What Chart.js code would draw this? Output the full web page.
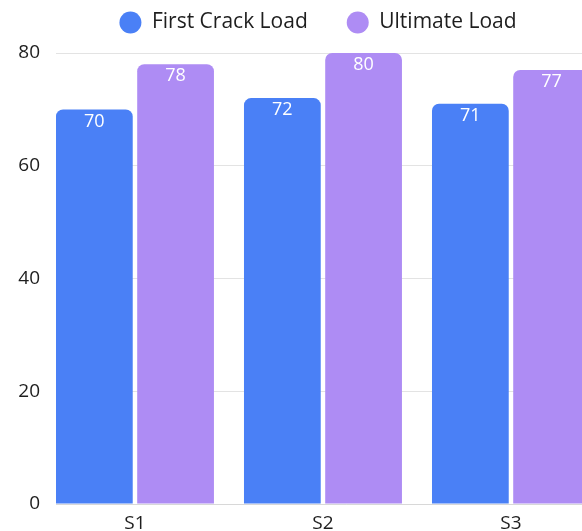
<!DOCTYPE html>
<html>
<head>
<meta charset="utf-8">
<script src="https://cdn.jsdelivr.net/npm/chart.js@4.4.1/dist/chart.umd.min.js"></script>
<style>
  html, body { margin: 0; padding: 0; background: #ffffff; overflow: hidden; }
  #c { display: block; }
</style>
</head>
<body>
<canvas id="c" width="636" height="544"></canvas>
<script>
// Specimen load test results
const categories = ['S1', 'S2', 'S3'];
const firstCrackLoad = [70, 72, 71];
const ultimateLoad = [78, 80, 77];
const yTicks = [0, 20, 40, 60, 80];
const seriesNames = ['First Crack Load', 'Ultimate Load'];
const seriesColors = ['#4a80f6', '#ae8cf4'];

const FONT = "'Open Sans', sans-serif";
const TEXT = '#1e1e1e';

// Each specimen sits at an integer position on the x axis
const toPoints = (vals) => vals.map((v, i) => ({ x: i, y: v }));

// White value printed just inside the top of every bar
const valueLabels = {
  id: 'valueLabels',
  afterDatasetsDraw(chart) {
    const ctx = chart.ctx;
    ctx.save();
    ctx.fillStyle = '#ffffff';
    ctx.font = '18px ' + FONT;
    ctx.textAlign = 'center';
    ctx.textBaseline = 'middle';
    chart.data.datasets.forEach((ds, di) => {
      chart.getDatasetMeta(di).data.forEach((bar, i) => {
        ctx.fillText(String(ds.data[i].y), bar.x, bar.y + 12);
      });
    });
    ctx.restore();
  }
};

// Extra room between the legend and the plot
const legendGap = {
  id: 'legendGap',
  beforeInit(chart) {
    const fit = chart.legend.fit;
    chart.legend.fit = function () {
      fit.call(this);
      this.height += 10;
    };
  }
};

new Chart(document.getElementById('c'), {
  type: 'bar',
  data: {
    datasets: [
      { label: seriesNames[0], data: toPoints(firstCrackLoad), backgroundColor: seriesColors[0] },
      { label: seriesNames[1], data: toPoints(ultimateLoad), backgroundColor: seriesColors[1] }
    ]
  },
  options: {
    responsive: false,
    animation: false,
    categoryPercentage: 0.864,
    barPercentage: 0.945,
    layout: { padding: { top: -27, left: 0, right: 0, bottom: 0 } },
    datasets: {
      bar: { borderRadius: 7, borderSkipped: 'start', borderWidth: 0 }
    },
    plugins: {
      legend: {
        position: 'top',
        labels: {
          usePointStyle: true,
          pointStyle: 'circle',
          pointStyleWidth: 22,
          boxHeight: 15.5,
          padding: 39,
          color: TEXT,
          font: { family: FONT, size: 21 }
        }
      },
      tooltip: { enabled: false }
    },
    scales: {
      x: {
        type: 'linear',
        offset: false,
        min: -0.42,
        max: 2.665,
        grid: { display: false, offset: false },
        border: { display: true, color: '#d8d8d8' },
        afterBuildTicks: (s) => { s.ticks = categories.map((_, i) => ({ value: i })); },
        afterFit: (s) => { s.height = 40; },
        ticks: {
          autoSkip: false,
          maxRotation: 0,
          padding: 0,
          color: TEXT,
          font: { family: FONT, size: 19 },
          callback: (v) => categories[v] ?? ''
        }
      },
      y: {
        min: 0,
        max: 80,
        afterBuildTicks: (s) => { s.ticks = yTicks.map((v) => ({ value: v })); },
        afterFit: (s) => { s.width = 56; },
        grid: { color: '#e3e3e3', drawTicks: false },
        border: { display: false },
        ticks: {
          padding: 16,
          color: TEXT,
          font: { family: FONT, size: 19 }
        }
      }
    }
  },
  plugins: [valueLabels, legendGap]
});
</script>
</body>
</html>
